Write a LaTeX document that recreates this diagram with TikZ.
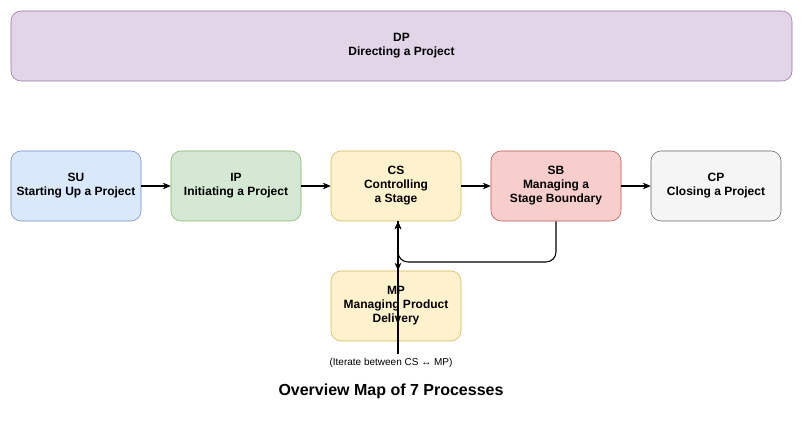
\documentclass[tikz,border=0pt]{standalone}
\usepackage{fontspec}
\setmainfont{Liberation Sans}
\usetikzlibrary{arrows.meta}
\definecolor{dpfill}{HTML}{E1D5E7}\definecolor{dpline}{HTML}{9673A6}
\definecolor{sufill}{HTML}{DAE8FC}\definecolor{suline}{HTML}{6C8EBF}
\definecolor{ipfill}{HTML}{D5E8D4}\definecolor{ipline}{HTML}{82B366}
\definecolor{csfill}{HTML}{FFF2CC}\definecolor{csline}{HTML}{D6B656}
\definecolor{sbfill}{HTML}{F8CECC}\definecolor{sbline}{HTML}{B85450}
\definecolor{cpfill}{HTML}{F5F5F5}\definecolor{cpline}{HTML}{666666}
\tikzset{
  proc/.style={rounded corners=7.5pt, minimum width=97.5pt, minimum height=52.5pt,
    align=center, font=\fontsize{9}{10.5}\selectfont\bfseries, inner sep=2pt},
  link/.style={-{Stealth[length=6pt,width=5pt]}, line width=0.8pt}
}
\begin{document}
\begin{tikzpicture}[x=0.75pt, y=-0.75pt]
\useasboundingbox (0,0) rectangle (804,424);
% Directing layer
\node[proc, fill=dpfill, draw=dpline, minimum width=585.75pt] (dp) at (401.5,46) {DP\\Directing a Project};

% Processes
\node[proc, fill=sufill, draw=suline] (su) at (76,186) {SU\\Starting Up a Project};
\node[proc, fill=ipfill, draw=ipline] (ip) at (236,186) {IP\\Initiating a Project};
\node[proc, fill=csfill, draw=csline] (cs) at (396,186) {CS\\Controlling\\a Stage};
\node[proc, fill=sbfill, draw=sbline] (sb) at (556,186) {SB\\Managing a\\Stage Boundary};
\node[proc, fill=cpfill, draw=cpline] (cp) at (716,186) {CP\\Closing a Project};
\node[proc, fill=csfill, draw=csline] (mp) at (396,306) {MP\\Managing Product\\Delivery};

% Labels
\node[font=\fontsize{7.5}{9}\selectfont] (iter) at (391,363) {(Iterate between CS ↔ MP)};
\node[font=\fontsize{12}{14}\selectfont\bfseries] (title) at (391,391) {Overview Map of 7 Processes};

% Flow
\draw[link] (su) -- (ip);
\draw[link] (ip) -- (cs);
\draw[link] (cs) -- (sb);
\draw[link] (sb) -- (cp);
\coordinate (turn) at (398,262);
\draw[link, rounded corners=7.5pt] (sb.south) |- (turn) -- (cs.south -| turn);
\draw[link] (cs.south -| turn) -- (mp.north -| turn);
\draw[link] (iter.north -| turn) -- (cs.south -| turn);
\end{tikzpicture}
\end{document}
